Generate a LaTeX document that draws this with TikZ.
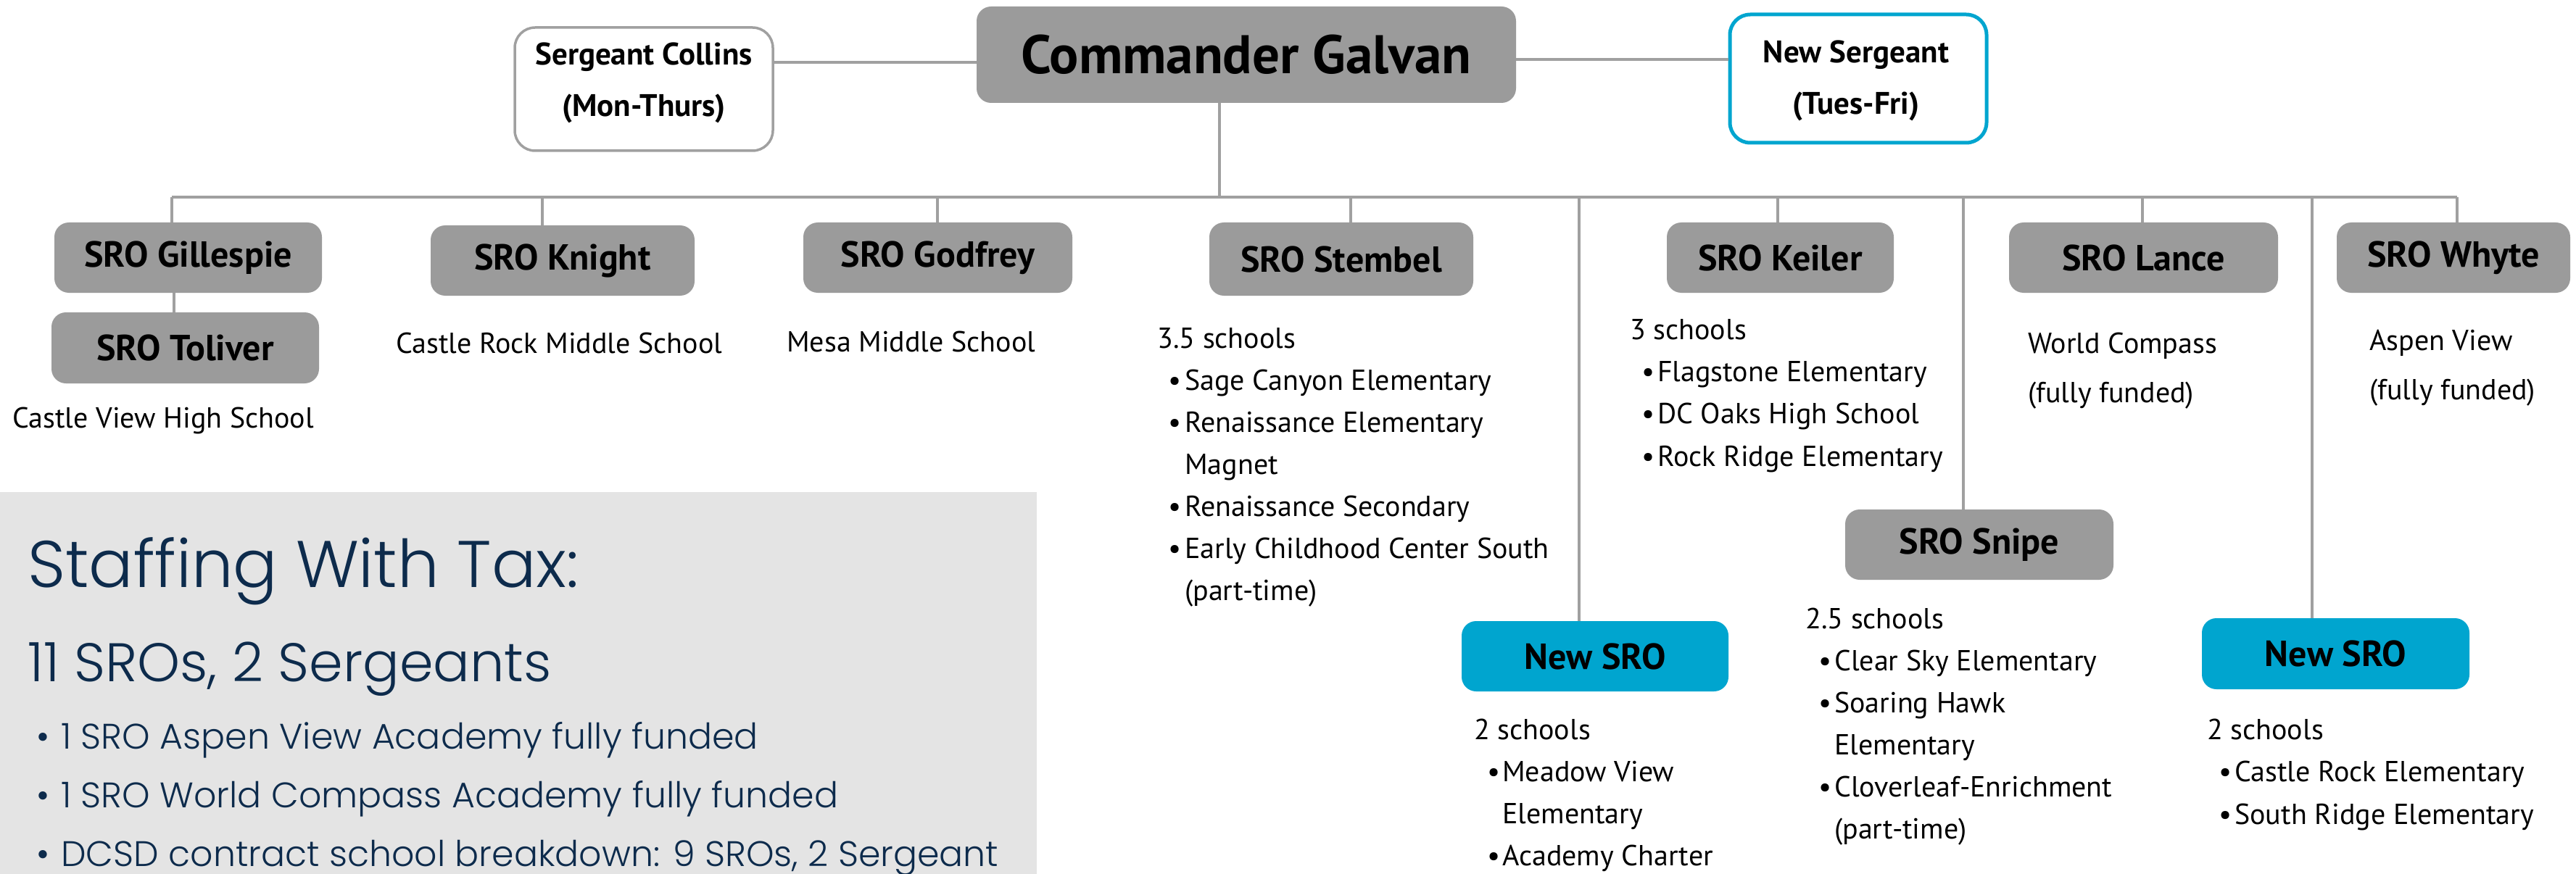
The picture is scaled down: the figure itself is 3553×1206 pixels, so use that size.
\documentclass[tikz,border=0pt]{standalone}
\usepackage{fontspec}
\newfontfamily\chart{PT Sans}
\newfontfamily\mont{Poppins Light}
\definecolor{boxgray}{HTML}{9B9B9B}
\definecolor{linegray}{HTML}{A0A0A0}
\definecolor{newblue}{HTML}{00A5CF}
\definecolor{navy}{HTML}{0D2B4C}
\definecolor{panel}{HTML}{E4E4E4}
\tikzset{
  conn/.style={draw=linegray, line width=4pt},
  grbox/.style={fill=boxgray, rounded corners=20pt, inner sep=0pt, font=\chart\bfseries\fontsize{50}{60}\selectfont},
  bluebox/.style={fill=newblue, rounded corners=20pt, inner sep=0pt, font=\chart\bfseries\fontsize{50}{60}\selectfont},
  sgtbox/.style={fill=white, rounded corners=28pt, inner sep=0pt},
  sgttext/.style={inner sep=0pt, align=center, font=\chart\bfseries\fontsize{43}{71}\selectfont},
  txt/.style={anchor=base west, inner sep=0pt, font=\chart\fontsize{40}{46}\selectfont},
  ptxt/.style={anchor=base west, inner sep=0pt, text=navy}
}
\begin{document}
\begin{tikzpicture}[x=1pt,y=-1pt]
\useasboundingbox (0,0) rectangle (3553,1206);
% panel
\fill[panel] (0,679) rectangle (1430,1206);
\node[ptxt, font=\mont\fontsize{91}{95}\selectfont] (st) at (38,810) {Staffing With Tax:};
\node[ptxt, font=\mont\fontsize{75}{80}\selectfont] (st2) at (38,940) {11 SROs, 2 Sergeants};
\node[ptxt, font=\mont\fontsize{49}{52}\selectfont] (p1) at (50,1033) {\makebox[34pt][l]{•}1 SRO Aspen View Academy fully funded};
\node[ptxt, font=\mont\fontsize{49}{52}\selectfont] (p2) at (50,1114) {\makebox[34pt][l]{•}1 SRO World Compass Academy fully funded};
\node[ptxt, font=\mont\fontsize{49}{52}\selectfont] (p3) at (50,1195) {\makebox[34pt][l]{•}DCSD contract school breakdown: 9 SROs, 2 Sergeant};

% top level
\node[grbox, minimum width=744, minimum height=133, font=\chart\bfseries\fontsize{75}{80}\selectfont] (cmd) at (1719,75.5) {Commander Galvan};
\node[sgtbox, draw=linegray, line width=3.5pt, minimum width=356, minimum height=170] (col) at (888,123) {};
\node[sgttext] (colt) at (888,114) {Sergeant Collins\\(Mon-Thurs)};
\node[sgtbox, draw=newblue, line width=5pt, minimum width=354, minimum height=177] (nsg) at (2563,108.5) {};
\node[sgttext] (nsgt) at (2560,111.5) {New Sergeant\\(Tues-Fri)};

% SRO boxes
\node[grbox, minimum width=369, minimum height=97] (gil) at (259.5,355.5) {SRO Gillespie};
\node[grbox, minimum width=369, minimum height=98] (tol) at (255.5,480) {SRO Toliver};
\node[grbox, minimum width=364, minimum height=97] (kni) at (776,359.5) {SRO Knight};
\node[grbox, minimum width=371, minimum height=97] (god) at (1293.5,355.5) {SRO Godfrey};
\node[grbox, minimum width=364, minimum height=101] (ste) at (1850,357.5) {SRO Stembel};
\node[grbox, minimum width=313, minimum height=97] (kei) at (2455.5,355.5) {SRO Keiler};
\node[grbox, minimum width=371, minimum height=97] (lan) at (2956.5,355.5) {SRO Lance};
\node[grbox, minimum width=322, minimum height=97] (why) at (3384,355.5) {SRO Whyte};
\node[grbox, minimum width=370, minimum height=97] (sni) at (2730,751.5) {SRO Snipe};
\node[bluebox, minimum width=368, minimum height=97] (ns1) at (2200,905.5) {New SRO};
\node[bluebox, minimum width=369, minimum height=98] (ns2) at (3221.5,902) {New SRO};

% connectors
\coordinate (lc) at (1200,86);
\draw[conn] (lc -| col.east) -- (lc -| cmd.west);
\coordinate (rc) at (2200,82);
\draw[conn] (rc -| cmd.east) -- (rc -| nsg.west);
\coordinate (cd) at (1682,272);
\draw[conn] (cd |- cmd.south) -- (cd);
\coordinate (bL) at (237,272);
\coordinate (bR) at (3389,272);
\draw[conn] (bL) -- (bR);
\coordinate (b2) at (748,272);
\coordinate (b3) at (1293,272);
\coordinate (b4) at (1863,272);
\coordinate (b5) at (2178,272);
\coordinate (b6) at (2452,272);
\coordinate (b7) at (2708,272);
\coordinate (b8) at (2955,272);
\coordinate (b9) at (3189,272);
\draw[conn] (bL) -- (bL |- gil.north);
\draw[conn] (b2) -- (b2 |- kni.north);
\draw[conn] (b3) -- (b3 |- god.north);
\draw[conn] (b4) -- (b4 |- ste.north);
\draw[conn] (b5) -- (b5 |- ns1.north);
\draw[conn] (b6) -- (b6 |- kei.north);
\draw[conn] (b7) -- (b7 |- sni.north);
\draw[conn] (b8) -- (b8 |- lan.north);
\draw[conn] (b9) -- (b9 |- ns2.north);
\draw[conn] (bR) -- (bR |- why.north);
\coordinate (gt) at (240,420);
\draw[conn] (gt |- gil.south) -- (gt |- tol.north);

% texts
\node[txt] (t1) at (17,590) {Castle View High School};
\node[txt] (t2) at (546,487) {Castle Rock Middle School};
\node[txt] (t3) at (1085,485) {Mesa Middle School};

\node[txt] (s0) at (1596,480) {3.5 schools};
\node[txt] (s1) at (1611,538) {\makebox[23pt][l]{•}Sage Canyon Elementary};
\node[txt] (s2) at (1611,596) {\makebox[23pt][l]{•}Renaissance Elementary};
\node[txt] (s3) at (1634,654) {Magnet};
\node[txt] (s4) at (1611,712) {\makebox[23pt][l]{•}Renaissance Secondary};
\node[txt] (s5) at (1611,770) {\makebox[23pt][l]{•}Early Childhood Center South};
\node[txt] (s6) at (1634,828) {(part-time)};

\node[txt] (k0) at (2248,468) {3 schools};
\node[txt] (k1) at (2264,526) {\makebox[22pt][l]{•}Flagstone Elementary};
\node[txt] (k2) at (2264,584) {\makebox[22pt][l]{•}DC Oaks High School};
\node[txt] (k3) at (2264,643) {\makebox[22pt][l]{•}Rock Ridge Elementary};

\node[txt] (l0) at (2797,487) {World Compass};
\node[txt] (l1) at (2797,555) {(fully funded)};
\node[txt] (w0) at (3268,483) {Aspen View};
\node[txt] (w1) at (3268,551) {(fully funded)};

\node[txt] (n0) at (2033,1020) {2 schools};
\node[txt] (n1) at (2051,1078) {\makebox[21pt][l]{•}Meadow View};
\node[txt] (n2) at (2072,1136) {Elementary};
\node[txt] (n3) at (2051,1194) {\makebox[21pt][l]{•}Academy Charter};

\node[txt] (p0) at (2490,867) {2.5 schools};
\node[txt] (q1) at (2508,925) {\makebox[22pt][l]{•}Clear Sky Elementary};
\node[txt] (q2) at (2508,983) {\makebox[22pt][l]{•}Soaring Hawk};
\node[txt] (q3) at (2530,1041) {Elementary};
\node[txt] (q4) at (2508,1099) {\makebox[22pt][l]{•}Cloverleaf-Enrichment};
\node[txt] (q5) at (2530,1157) {(part-time)};

\node[txt] (m0) at (3044,1020) {2 schools};
\node[txt] (m1) at (3060,1078) {\makebox[22pt][l]{•}Castle Rock Elementary};
\node[txt] (m2) at (3060,1137) {\makebox[22pt][l]{•}South Ridge Elementary};
\end{tikzpicture}
\end{document}
